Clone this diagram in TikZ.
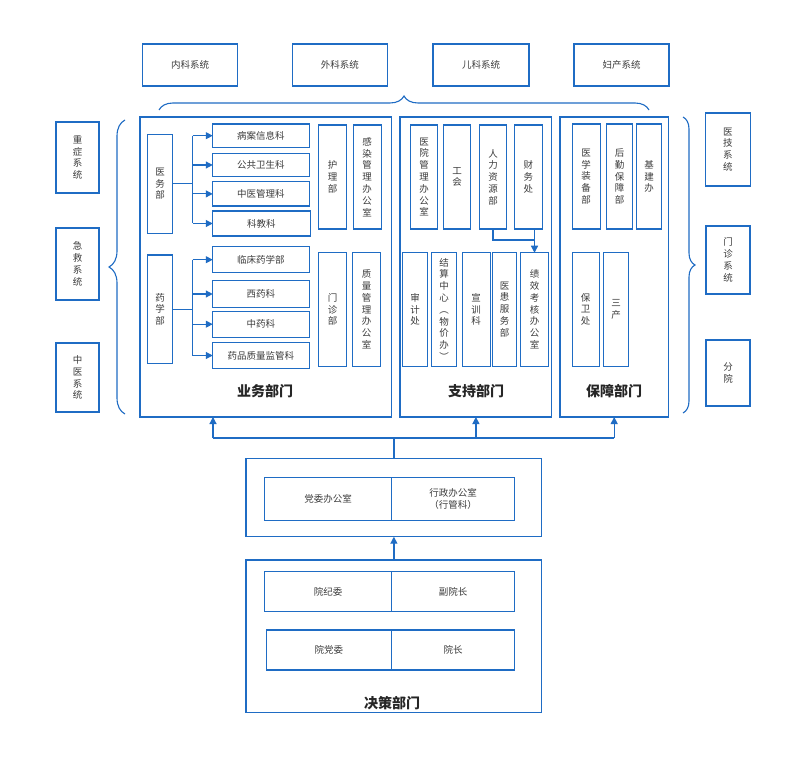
\documentclass[tikz,border=0pt]{standalone}
\usepackage{fontspec}
\setmainfont{Noto Sans CJK SC}
\usepackage{tikz}
\usetikzlibrary{arrows.meta,decorations.pathreplacing}
\definecolor{line}{HTML}{1F6CC4}
\definecolor{txt}{HTML}{3C3C3C}
\tikzset{cell/.style={draw=line,line width=1.1pt,inner sep=0pt,outer sep=0pt,align=center,text=txt,font=\fontsize{9.5}{11.8}\selectfont},group/.style={draw=line,line width=1.3pt,inner sep=0pt,outer sep=0pt},grouplabel/.style={text=black!85,font=\fontsize{14}{16}\selectfont\bfseries},link/.style={draw=line,line width=1.2pt},arr/.style={draw=line,line width=1.2pt,-{Triangle[length=7pt,width=7pt]}},curly/.style={draw=line,line width=1.1pt,decorate,decoration={brace,amplitude=#1}}}

\begin{document}
\begin{tikzpicture}[x=1pt,y=-1pt]
\useasboundingbox[fill=white] (0,0) rectangle (800,759);
% top systems
\node[cell,minimum width=95.1pt,minimum height=42pt] (neike) at (190.2,65) {内科系统};
\node[cell,minimum width=95.7pt,minimum height=42pt] (waike) at (339.9,65) {外科系统};
\node[cell,minimum width=96pt,minimum height=42pt] (erke) at (481,65) {儿科系统};
\node[cell,minimum width=95pt,minimum height=42pt] (fuchan) at (621.5,65) {妇产系统};
% side systems
\node[cell,minimum width=43pt,minimum height=71pt] (zhongzheng) at (77.5,157.5) {重\\症\\系\\统};
\node[cell,minimum width=43pt,minimum height=72pt] (jijiu) at (77.5,264) {急\\救\\系\\统};
\node[cell,minimum width=43pt,minimum height=69pt] (zhongyixt) at (77.5,377.5) {中\\医\\系\\统};
\node[cell,minimum width=45.5pt,minimum height=73pt] (yiji) at (727.8,149.5) {医\\技\\系\\统};
\node[cell,minimum width=44pt,minimum height=68pt] (menzhenxt) at (728,260) {门\\诊\\系\\统};
\node[cell,minimum width=44pt,minimum height=66pt] (fenyuan) at (728,373) {分\\院};
% braces
\draw[curly=14pt] (159,110) -- (649,110);
\draw[curly=16pt] (125,414) -- (125,120);
\draw[curly=12pt] (683,117) -- (683,413);
% department groups
\node[group,minimum width=251.7pt,minimum height=300pt] (yewu) at (265.9,267) {};
\node[group,minimum width=151.7pt,minimum height=300pt] (zhichi) at (475.9,267) {};
\node[group,minimum width=108.3pt,minimum height=300pt] (baozhang) at (614.2,267) {};
\node[grouplabel] at (265,391) {业务部门};
\node[grouplabel] at (476,391) {支持部门};
\node[grouplabel] at (614,391) {保障部门};
% business
\node[cell,minimum width=25.4pt,minimum height=99pt] (yiwu) at (160,183.8) {医\\务\\部};
\node[cell,minimum width=96.3pt,minimum height=23.3pt] (bingan) at (260.9,135.7) {病案信息科};
\node[cell,minimum width=96.3pt,minimum height=23.4pt] (gonggong) at (260.9,165) {公共卫生科};
\node[cell,minimum width=96.3pt,minimum height=24.3pt] (zhongyiguan) at (260.9,193.9) {中医管理科};
\node[cell,minimum width=97.3pt,minimum height=25pt] (kejiao) at (261.4,223.5) {科教科};
\node[cell,minimum width=25.4pt,minimum height=108.3pt] (yaoxue) at (160,309.2) {药\\学\\部};
\node[cell,minimum width=96.3pt,minimum height=26pt] (linchuang) at (260.9,259.7) {临床药学部};
\node[cell,minimum width=96.3pt,minimum height=26.6pt] (xiyao) at (260.9,294) {西药科};
\node[cell,minimum width=96.3pt,minimum height=26.3pt] (zhongyao) at (260.9,324.2) {中药科};
\node[cell,minimum width=96.3pt,minimum height=25.6pt] (yaopin) at (260.9,355.5) {药品质量监管科};
\node[cell,minimum width=28.4pt,minimum height=104pt] (huli) at (332.5,177) {护\\理\\部};
\node[cell,minimum width=27.7pt,minimum height=104pt] (ganran) at (367.2,177) {感\\染\\管\\理\\办\\公\\室};
\node[cell,minimum width=28.4pt,minimum height=113.3pt] (menzhen) at (332.5,309.4) {门\\诊\\部};
\node[cell,minimum width=28pt,minimum height=113.3pt] (zhiliang) at (366.7,309.4) {质\\量\\管\\理\\办\\公\\室};
\draw[link] (yiwu.east) -- ++(20,0) coordinate (yiwuT);
\draw[link] (yiwuT |- bingan.west) -- (yiwuT |- kejiao.west);
\foreach \t in {bingan,gonggong,zhongyiguan,kejiao}{\draw[arr] (yiwuT |- \t.west) -- (\t.west);}
\draw[link] (yaoxue.east) -- ++(20,0) coordinate (yaoxueT);
\draw[link] (yaoxueT |- linchuang.west) -- (yaoxueT |- yaopin.west);
\foreach \t in {linchuang,xiyao,zhongyao,yaopin}{\draw[arr] (yaoxueT |- \t.west) -- (\t.west);}
% support
\node[cell,minimum width=27pt,minimum height=104pt] (yiyuan) at (424.2,177) {医\\院\\管\\理\\办\\公\\室};
\node[cell,minimum width=27.4pt,minimum height=104pt] (gonghui) at (457,177) {工\\会};
\node[cell,minimum width=27.4pt,minimum height=104pt] (renli) at (493,177) {人\\力\\资\\源\\部};
\node[cell,minimum width=28.7pt,minimum height=104pt] (caiwu) at (528.4,177) {财\\务\\处};
\node[cell,minimum width=24.6pt,minimum height=113.3pt] (shenji) at (415,309.4) {审\\计\\处};
\node[cell,minimum width=25pt,minimum height=113.3pt] (jiesuan) at (444.2,309.4) {结\\算\\中\\心\\︵\\物\\价\\办\\︶};
\node[cell,minimum width=27.7pt,minimum height=113.3pt] (xuanxun) at (476.2,309.4) {宣\\训\\科};
\node[cell,minimum width=24pt,minimum height=113.3pt] (yihuan) at (504.7,309.4) {医\\患\\服\\务\\部};
\node[cell,minimum width=27.6pt,minimum height=113.3pt] (jixiao) at (534.5,309.4) {绩\\效\\考\\核\\办\\公\\室};
\draw[link] (renli.south) |- (jixiao.north |- 0,240);
\draw[arr] (caiwu.south -| jixiao.north) -- (jixiao.north);
% logistics
\node[cell,minimum width=27.7pt,minimum height=105pt] (zhuangbei) at (586.2,176.5) {医\\学\\装\\备\\部};
\node[cell,minimum width=25.6pt,minimum height=105pt] (houqin) at (619.5,176.5) {后\\勤\\保\\障\\部};
\node[cell,minimum width=25pt,minimum height=105pt] (jijian) at (649.2,176.5) {基\\建\\办};
\node[cell,minimum width=26.7pt,minimum height=113.3pt] (baowei) at (585.7,309.4) {保\\卫\\处};
\node[cell,minimum width=25pt,minimum height=113.3pt] (sanchan) at (616.2,309.4) {三\\产};
% offices
\node[group,minimum width=295.7pt,minimum height=78.4pt] (mid) at (393.9,497.5) {};
\node[cell,minimum width=127.4pt,minimum height=42.3pt] (dangwei) at (328,498.9) {党委办公室};
\node[cell,minimum width=122.6pt,minimum height=42.3pt] (xingzheng) at (453,498.9) {行政办公室\\（行管科）};
% decision
\node[group,minimum width=295.7pt,minimum height=152.3pt] (juece) at (393.9,636.2) {};
\node[cell,minimum width=127.4pt,minimum height=40pt] (jiwei) at (328,591.7) {院纪委};
\node[cell,minimum width=122.6pt,minimum height=40pt] (fuyuanzhang) at (453,591.7) {副院长};
\node[cell,minimum width=125.7pt,minimum height=40pt] (dangweiyuan) at (328.9,650) {院党委};
\node[cell,minimum width=122.6pt,minimum height=40pt] (yuanzhang) at (453,650) {院长};
\node[grouplabel] at (392,703) {决策部门};
% links between levels
\draw[arr] (juece.north) -- (mid.south);
\coordinate (hub) at (mid.north |- 0,438);
\coordinate (tapA) at (213,438);
\draw[link] (mid.north) -- (hub);
\draw[link] (tapA) -- (baozhang.south |- hub);
\draw[arr] (tapA) -- (tapA |- yewu.south);
\draw[arr] (zhichi.south |- hub) -- (zhichi.south);
\draw[arr] (baozhang.south |- hub) -- (baozhang.south);
\end{tikzpicture}
\end{document}
